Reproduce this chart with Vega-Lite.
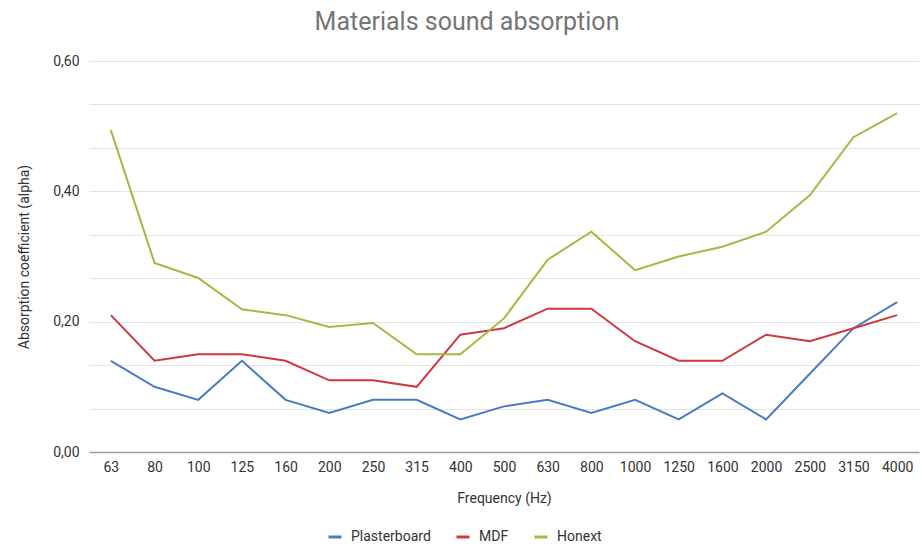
{
  "$schema": "https://vega.github.io/schema/vega-lite/v6.json",
  "width": 830,
  "height": 391,
  "autosize": "none",
  "padding": {"left": 89, "top": 61, "right": 3, "bottom": 98},
  "background": "white",
  "config": {"view": {"stroke": null}, "font": "Roboto"},
  "title": {"text": "Materials sound absorption", "fontSize": 25, "font": "Roboto", "fontWeight": "normal", "color": "#757575", "dx": -37, "offset": 19, "anchor": "middle"},
  "data": {"values": [
    {"f": "63", "o": 0, "s": "Plasterboard", "v": 0.14},
    {"f": "80", "o": 1, "s": "Plasterboard", "v": 0.10},
    {"f": "100", "o": 2, "s": "Plasterboard", "v": 0.08},
    {"f": "125", "o": 3, "s": "Plasterboard", "v": 0.14},
    {"f": "160", "o": 4, "s": "Plasterboard", "v": 0.08},
    {"f": "200", "o": 5, "s": "Plasterboard", "v": 0.06},
    {"f": "250", "o": 6, "s": "Plasterboard", "v": 0.08},
    {"f": "315", "o": 7, "s": "Plasterboard", "v": 0.08},
    {"f": "400", "o": 8, "s": "Plasterboard", "v": 0.05},
    {"f": "500", "o": 9, "s": "Plasterboard", "v": 0.07},
    {"f": "630", "o": 10, "s": "Plasterboard", "v": 0.08},
    {"f": "800", "o": 11, "s": "Plasterboard", "v": 0.06},
    {"f": "1000", "o": 12, "s": "Plasterboard", "v": 0.08},
    {"f": "1250", "o": 13, "s": "Plasterboard", "v": 0.05},
    {"f": "1600", "o": 14, "s": "Plasterboard", "v": 0.09},
    {"f": "2000", "o": 15, "s": "Plasterboard", "v": 0.05},
    {"f": "2500", "o": 16, "s": "Plasterboard", "v": 0.12},
    {"f": "3150", "o": 17, "s": "Plasterboard", "v": 0.19},
    {"f": "4000", "o": 18, "s": "Plasterboard", "v": 0.23},
    {"f": "63", "o": 0, "s": "MDF", "v": 0.21},
    {"f": "80", "o": 1, "s": "MDF", "v": 0.14},
    {"f": "100", "o": 2, "s": "MDF", "v": 0.15},
    {"f": "125", "o": 3, "s": "MDF", "v": 0.15},
    {"f": "160", "o": 4, "s": "MDF", "v": 0.14},
    {"f": "200", "o": 5, "s": "MDF", "v": 0.11},
    {"f": "250", "o": 6, "s": "MDF", "v": 0.11},
    {"f": "315", "o": 7, "s": "MDF", "v": 0.10},
    {"f": "400", "o": 8, "s": "MDF", "v": 0.18},
    {"f": "500", "o": 9, "s": "MDF", "v": 0.19},
    {"f": "630", "o": 10, "s": "MDF", "v": 0.22},
    {"f": "800", "o": 11, "s": "MDF", "v": 0.22},
    {"f": "1000", "o": 12, "s": "MDF", "v": 0.17},
    {"f": "1250", "o": 13, "s": "MDF", "v": 0.14},
    {"f": "1600", "o": 14, "s": "MDF", "v": 0.14},
    {"f": "2000", "o": 15, "s": "MDF", "v": 0.18},
    {"f": "2500", "o": 16, "s": "MDF", "v": 0.17},
    {"f": "3150", "o": 17, "s": "MDF", "v": 0.19},
    {"f": "4000", "o": 18, "s": "MDF", "v": 0.21},
    {"f": "63", "o": 0, "s": "Honext", "v": 0.494},
    {"f": "80", "o": 1, "s": "Honext", "v": 0.29},
    {"f": "100", "o": 2, "s": "Honext", "v": 0.267},
    {"f": "125", "o": 3, "s": "Honext", "v": 0.219},
    {"f": "160", "o": 4, "s": "Honext", "v": 0.21},
    {"f": "200", "o": 5, "s": "Honext", "v": 0.192},
    {"f": "250", "o": 6, "s": "Honext", "v": 0.198},
    {"f": "315", "o": 7, "s": "Honext", "v": 0.15},
    {"f": "400", "o": 8, "s": "Honext", "v": 0.15},
    {"f": "500", "o": 9, "s": "Honext", "v": 0.205},
    {"f": "630", "o": 10, "s": "Honext", "v": 0.295},
    {"f": "800", "o": 11, "s": "Honext", "v": 0.338},
    {"f": "1000", "o": 12, "s": "Honext", "v": 0.279},
    {"f": "1250", "o": 13, "s": "Honext", "v": 0.30},
    {"f": "1600", "o": 14, "s": "Honext", "v": 0.315},
    {"f": "2000", "o": 15, "s": "Honext", "v": 0.338},
    {"f": "2500", "o": 16, "s": "Honext", "v": 0.394},
    {"f": "3150", "o": 17, "s": "Honext", "v": 0.483},
    {"f": "4000", "o": 18, "s": "Honext", "v": 0.52}
  ]},
  "mark": {"type": "line", "strokeWidth": 2},
  "encoding": {
    "x": {
      "field": "f", "type": "ordinal", "sort": {"field": "o"},
      "scale": {"type": "point", "padding": 0.5},
      "axis": {"title": "Frequency (Hz)", "labelAngle": 0, "labelFontSize": 14, "labelColor": "#333333", "labelPadding": 8, "ticks": false, "domainColor": "#9e9e9e", "domainWidth": 1.5, "grid": false, "titleFontSize": 14, "titleFontWeight": "normal", "titleColor": "#333333", "titlePadding": 17}
    },
    "y": {
      "field": "v", "type": "quantitative",
      "scale": {"domain": [0, 0.6], "nice": false, "zero": true},
      "axis": {
        "title": "Absorption coefficient (alpha)",
        "values": [0, 0.0667, 0.1333, 0.2, 0.2667, 0.3333, 0.4, 0.4667, 0.5333, 0.6],
        "labelExpr": "abs(datum.value*5 - round(datum.value*5)) < 0.001 ? replace(format(datum.value, '.2f'), '.', ',') : ''",
        "domain": false, "ticks": false, "labelPadding": 10, "labelFontSize": 14, "labelColor": "#333333",
        "gridColor": "#e4e4e4", "gridWidth": 1,
        "titleFontSize": 14, "titleFontWeight": "normal", "titleColor": "#333333", "titlePadding": 21
      }
    },
    "color": {
      "field": "s", "type": "nominal",
      "scale": {"domain": ["Plasterboard", "MDF", "Honext"], "range": ["#4a7bc4", "#d0383f", "#a6b840"]},
      "legend": {"title": null, "orient": "none", "direction": "horizontal", "legendX": 238, "legendY": 468, "symbolType": "stroke", "symbolStrokeWidth": 3, "symbolSize": 169, "labelFontSize": 14, "labelColor": "#333333", "columnPadding": 19, "labelOffset": 8}
    }
  }
}
